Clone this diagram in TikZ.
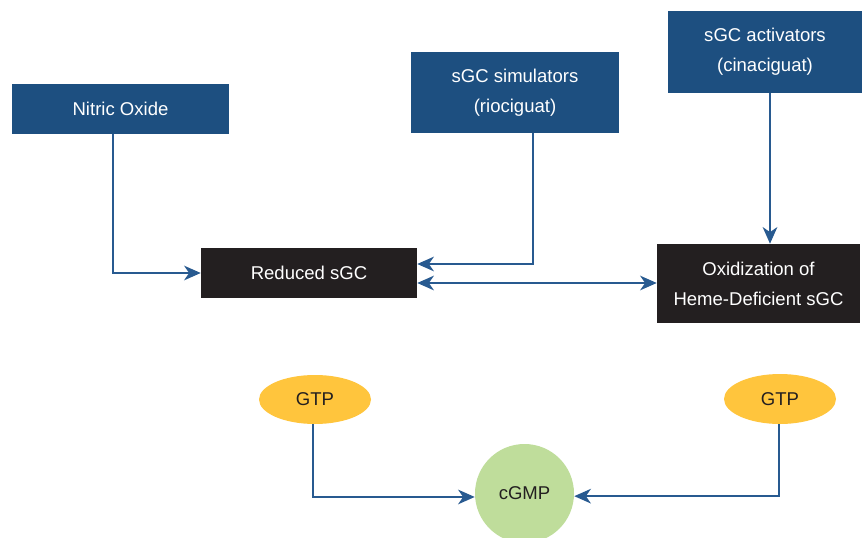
\documentclass[tikz,border=0pt]{standalone}
\usepackage{fontspec}
\setmainfont{Liberation Sans}
\usetikzlibrary{arrows.meta,shapes.geometric}
\definecolor{boxblue}{HTML}{1D4F80}
\definecolor{boxdark}{HTML}{231F20}
\definecolor{gtpgold}{HTML}{FFC53D}
\definecolor{cgmpgreen}{HTML}{BFDD9B}
\definecolor{linkblue}{HTML}{285A90}
\begin{document}
\begin{tikzpicture}[x=0.75pt,y=-0.75pt,
  lbl/.style={font=\fontsize{13.9pt}{22.5pt}\selectfont, align=center, inner sep=0pt},
  agent/.style={lbl, rectangle, fill=boxblue, text=white},
  enzyme/.style={lbl, rectangle, fill=boxdark, text=white},
  gtp/.style={lbl, ellipse, fill=gtpgold, text=boxdark},
  product/.style={lbl, circle, fill=cgmpgreen, text=boxdark},
  conn/.style={draw=linkblue, line width=1.2pt,
    -{Stealth[length=12.5pt,width=11pt,inset=3.8pt]}},
  biconn/.style={draw=linkblue, line width=1.2pt,
    {Stealth[length=12.5pt,width=11pt,inset=3.8pt]}-{Stealth[length=12.5pt,width=11pt,inset=3.8pt]}}]
\useasboundingbox (0,0) rectangle (863,538);

% upstream modulators
\node[agent, minimum width=162.75pt, minimum height=37.5pt] (no) at (120.5,109) {Nitric Oxide};
\node[agent, minimum width=156pt, minimum height=60.75pt] (sim) at (515,92.5) {sGC simulators\\(riociguat)};
\node[agent, minimum width=145.5pt, minimum height=61.5pt] (act) at (765,52) {sGC activators\\(cinaciguat)};

% enzyme states
\node[enzyme, minimum width=162pt, minimum height=37.5pt] (red) at (309,273) {Reduced sGC};
\node[enzyme, minimum width=152.25pt, minimum height=59.25pt] (ox) at (758.5,283.5) {Oxidization of\\Heme-Deficient sGC};

% substrate and product
\node[gtp, minimum width=84pt, minimum height=36.75pt] (gl) at (315,399.5) {GTP};
\node[gtp, minimum width=84pt, minimum height=37.5pt] (gr) at (780,399) {GTP};
\node[product, minimum size=74.25pt] (cg) at (524.5,493.5) {cGMP};

% connectors
\draw[conn] ([xshift=-5.6pt]no.south) |- (red.west);
\draw[conn] ([xshift=13.5pt]sim.south) |- ([yshift=6.75pt]red.east);
\draw[biconn] ([yshift=-7.5pt]red.east) -- ([yshift=-7.5pt]red.east -| ox.west);
\draw[conn] ([xshift=3.75pt]act.south) -- ([xshift=3.75pt]act.south |- ox.north);
\draw[conn] ([xshift=-1.5pt]gl.south) |- ([yshift=-2.6pt]cg.west);
\draw[conn] ([xshift=-0.75pt]gr.south) |- ([yshift=-2pt]cg.east);
\end{tikzpicture}
\end{document}
